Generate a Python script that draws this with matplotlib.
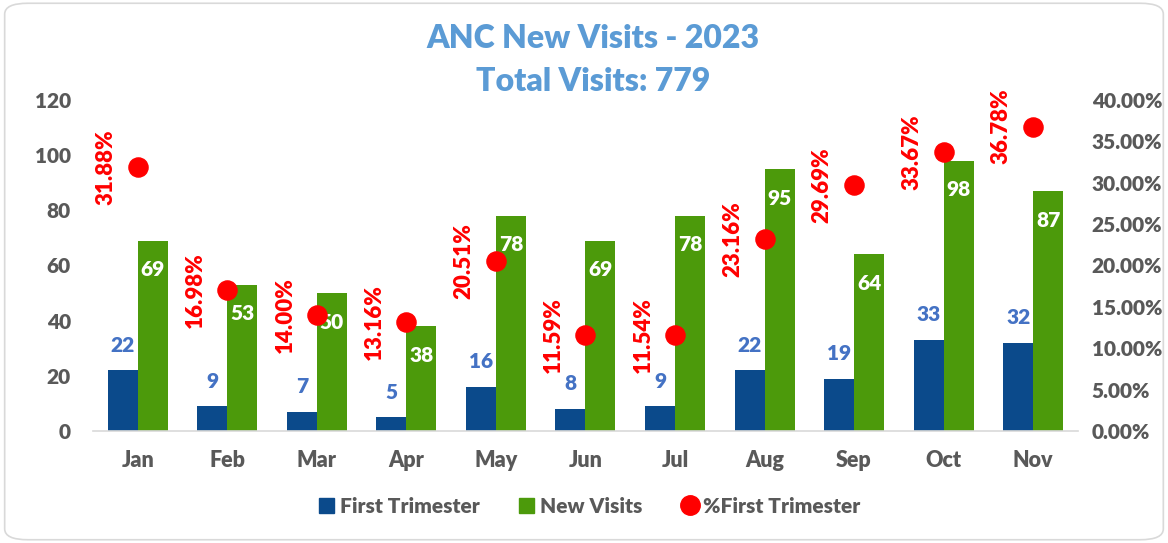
import matplotlib
matplotlib.use("Agg")
import matplotlib.pyplot as plt
import numpy as np
from matplotlib.patches import FancyBboxPatch, Patch
from matplotlib.lines import Line2D
from matplotlib.ticker import FuncFormatter, MultipleLocator

months = ["Jan", "Feb", "Mar", "Apr", "May", "Jun", "Jul", "Aug", "Sep", "Oct", "Nov"]
first_trimester = [22, 9, 7, 5, 16, 8, 9, 22, 19, 33, 32]
new_visits = [69, 53, 50, 38, 78, 69, 78, 95, 64, 98, 87]
pct_first = [31.88, 16.98, 14.00, 13.16, 20.51, 11.59, 11.54, 23.16, 29.69, 33.67, 36.78]

plt.rcParams["font.family"] = ["Lato", "DejaVu Sans"]
plt.rcParams["font.weight"] = "heavy"
W = "heavy"
GRAY = "#595959"
C_BLUE = "#0B4A8B"
C_GREEN = "#4C9A0B"
C_RED = "#FF0000"
C_LBL = "#4472C4"
C_TITLE = "#5B9BD5"

fig = plt.figure(figsize=(11.68, 5.43), dpi=100)
border = FancyBboxPatch((0.004, 0.006), 0.992, 0.988, boxstyle="round,pad=0,rounding_size=0.02",
                        transform=fig.transFigure, fill=False, edgecolor="#D9D9D9", linewidth=1.2)
fig.patches.append(border)

ax = fig.add_axes([0.0796, 0.2063, 0.8433, 0.6096])
ax2 = ax.twinx()

x = np.arange(len(months))
w = 0.335
ax.bar(x - w / 2, first_trimester, w, color=C_BLUE, zorder=2)
ax.bar(x + w / 2, new_visits, w, color=C_GREEN, zorder=2)
ax.set_xlim(-0.5, len(months) - 0.5)
ax.set_ylim(0, 120)
ax.yaxis.set_major_locator(MultipleLocator(20))
ax2.set_ylim(0, 40)
ax2.yaxis.set_major_locator(MultipleLocator(5))
ax2.yaxis.set_major_formatter(FuncFormatter(lambda v, p: f"{v:.2f}%"))

for a in (ax, ax2):
    for s in a.spines.values():
        s.set_visible(False)
    a.tick_params(length=0, labelsize=15, labelcolor=GRAY)
ax.spines["bottom"].set_visible(True)
ax.spines["bottom"].set_color("#D9D9D9")
ax.spines["bottom"].set_linewidth(1.2)
ax.set_xticks(x)
ax.set_xticklabels(months, fontweight=W, fontsize=15.5, color=GRAY)
ax.tick_params(axis="x", pad=14)
ax.tick_params(axis="y", pad=16)
ax2.tick_params(axis="y", pad=10)

for xi, v in zip(x, first_trimester):
    ax.annotate(str(v), (xi - w / 2, v), xytext=(0, 18), textcoords="offset points",
                ha="center", va="center", color=C_LBL, fontsize=15, fontweight=W)
for xi, v in zip(x, new_visits):
    ax.annotate(str(v), (xi + w / 2, v), xytext=(0, -21), textcoords="offset points",
                ha="center", va="center", color="white", fontsize=15, fontweight=W)

ax2.scatter(x, pct_first, s=190, color=C_RED, zorder=3)
for xi, v in zip(x, pct_first):
    ax2.annotate(f"{v:.2f}%", (xi, v), xytext=(-23, 0), textcoords="offset points",
                 ha="center", va="center", rotation=90, color=C_RED, fontsize=16, fontweight=W)

fig.text(0.508, 0.930, "ANC New Visits - 2023", ha="center", va="center",
         color=C_TITLE, fontsize=23, fontweight=W)
fig.text(0.508, 0.850, "Total Visits: 779", ha="center", va="center",
         color=C_TITLE, fontsize=23, fontweight=W)

handles = [Patch(color=C_BLUE), Patch(color=C_GREEN),
           Line2D([], [], marker="o", linestyle="", color=C_RED, markersize=14)]
leg = fig.legend(handles, ["First Trimester", "New Visits", "%First Trimester"],
                 loc="center", bbox_to_anchor=(0.505, 0.068), ncol=3, frameon=False,
                 handlelength=0.7, handleheight=0.7, handletextpad=0.3, columnspacing=1.9,
                 prop={"size": 15, "weight": W})
for t in leg.get_texts():
    t.set_color(GRAY)

fig.savefig("out.png", dpi=100)
